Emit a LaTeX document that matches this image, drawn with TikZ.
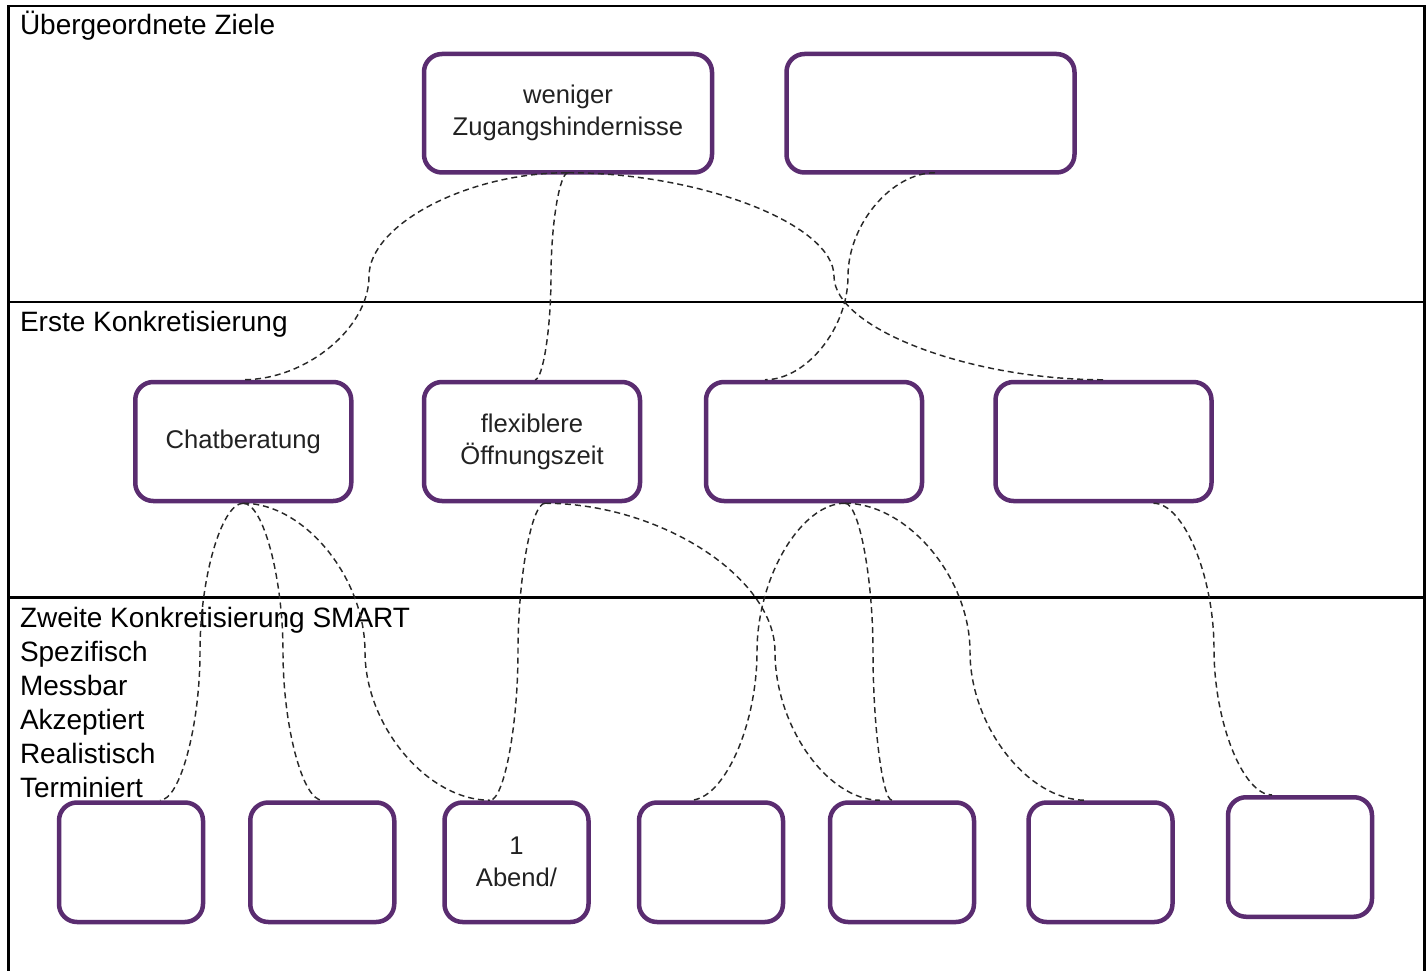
\documentclass[tikz,border=0pt]{standalone}
\usepackage{fontspec}
\setmainfont{Liberation Sans}
\usetikzlibrary{calc,backgrounds}
\definecolor{goalpurple}{RGB}{90,44,112}
\definecolor{inktext}{RGB}{34,34,34}
\definecolor{linkgray}{RGB}{40,40,40}

% curved connector: leaves #1 horizontally, turns vertical at x = #3, enters #2 horizontally
\newcommand\goallink[3]{%
  \draw[link] let \p1=(#1), \p2=(#2) in
    (\p1) .. controls ({((\x1)+#3pt)/2},\y1) and (#3pt,{(\y1)+((\y2)-(\y1))/4}) ..
    (#3pt,{((\y1)+(\y2))/2}) .. controls (#3pt,{(\y1)+3*((\y2)-(\y1))/4}) and ({((\x2)+#3pt)/2},\y2) .. (\p2);}

\begin{document}
\begin{tikzpicture}[x=1pt,y=-1pt,
  goalbox/.style={draw=goalpurple, line width=4.5pt, rounded corners=18pt, fill=white,
    inner sep=0pt, align=center, text=inktext,
    font=\fontsize{25.6}{32}\selectfont},
  topbox/.style={goalbox, minimum width=288pt, minimum height=118.5pt},
  midbox/.style={goalbox, minimum width=216pt, minimum height=119pt},
  lowbox/.style={goalbox, minimum width=144pt, minimum height=119.5pt},
  heading/.style={font=\fontsize{28}{34}\selectfont, inner sep=0pt, outer sep=0pt, align=left},
  frameline/.style={line width=2.5pt, line cap=rect},
  link/.style={draw=linkgray, line width=1.45pt, dash pattern=on 6pt off 4pt}]

\useasboundingbox (0,0) rectangle (1428,971);

% page, frame and band dividers
\begin{scope}[on background layer]
  \fill[white] (0,0) rectangle (1428,971);
  \draw[frameline] (8.5,975) -- (8.5,6) -- (1424.5,6) -- (1424.5,975);
  \draw[frameline] (8.5,302) -- (1424.5,302);
  \draw[frameline] (8.5,597.5) -- (1424.5,597.5);
\end{scope}

% band headings
\node[heading, anchor=base west] (h1) at (20,35) {Übergeordnete Ziele};
\node[heading, anchor=base west] (h2) at (20,331.5) {Erste Konkretisierung};
\node[heading, anchor=north west] (h3) at (20,607) {Zweite Konkretisierung SMART\\Spezifisch\\Messbar\\Akzeptiert\\Realistisch\\Terminiert};

% top-level goals
\node[topbox] (goalA) at (568,113.25) {weniger\\Zugangshindernisse\vphantom{p}};
\node[topbox] (goalB) at (930.5,113.25) {};

% first refinement
\node[midbox] (chat) at (243.25,441.5) {Chatberatung};
\node[midbox] (flex) at (532,441.5) {flexiblere\\Öffnungszeit};
\node[midbox] (midC) at (814,441.5) {};
\node[midbox] (midD) at (1103.5,441.5) {};

% second refinement
\node[lowbox] (low1) at (131,862.25) {};
\node[lowbox] (low2) at (322.25,862.25) {};
\node[lowbox] (low3) at (516.5,862.25) {1\\Abend/};
\node[lowbox] (low4) at (711,862.25) {};
\node[lowbox] (low5) at (902,862.25) {};
\node[lowbox] (low6) at (1100.5,862.25) {};
\node[lowbox] (low7) at (1300,857) {};

% dashed links
\goallink{[xshift=-1pt,yshift=2pt]goalA.south}{chat.north}{369}
\goallink{[yshift=2pt]goalA.south}{[xshift=3pt]flex.north}{551}
\goallink{[yshift=2pt]goalA.south}{midD.north}{834}
\goallink{[xshift=4.5pt,yshift=2pt]goalB.south}{[xshift=-49pt]midC.north}{848}
\goallink{chat.south}{[xshift=29pt]low1.north}{200}
\goallink{chat.south}{low2.north}{283}
\goallink{chat.south}{[xshift=-26.5pt]low3.north}{365}
\goallink{[xshift=13pt]flex.south}{[xshift=-26.5pt]low3.north}{518}
\goallink{[xshift=13pt]flex.south}{[xshift=-22pt]low5.north}{775}
\goallink{[xshift=31pt]midC.south}{[xshift=-21pt]low4.north}{757}
\goallink{[xshift=31pt]midC.south}{[xshift=-10pt]low5.north}{873}
\goallink{[xshift=31pt]midC.south}{[xshift=-15pt]low6.north}{970}
\goallink{[xshift=50pt]midD.south}{[xshift=-28pt]low7.north}{1214}
\end{tikzpicture}
\end{document}
